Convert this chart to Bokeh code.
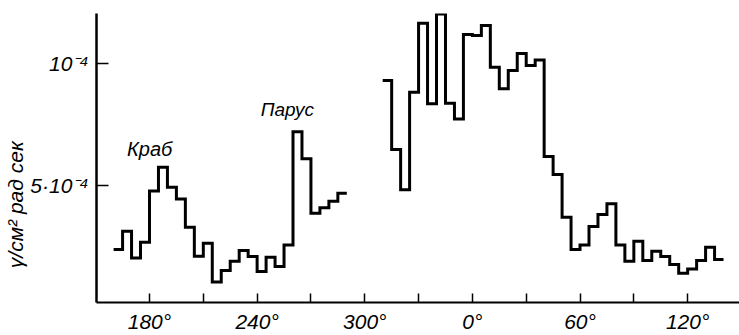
from bokeh.plotting import figure
from bokeh.models import Range1d, FixedTicker
from bokeh.embed import file_html
from bokeh.resources import INLINE

# ---- data (galactic longitude in degrees, unwrapped past 360; flux in units of 1e-5) ----
edges_a = [160, 165, 170, 175, 180, 185, 190, 195, 200, 205, 210, 215, 220, 225,
           230, 235, 240, 245, 250, 255, 260, 265, 270, 275, 280, 285, 290]
flux_a = [2.38, 3.13, 2.04, 2.68, 4.77, 5.75, 4.93, 4.45, 3.29, 2.11, 2.64, 1.05, 1.52,
          1.90, 2.34, 2.10, 1.48, 2.07, 1.69, 2.57, 7.20, 6.09, 3.87, 4.09, 4.36, 4.68]

edges_b = [310, 315, 320, 325, 330, 335, 340, 345, 350, 355, 360, 365, 370, 375, 380,
           385, 390, 395, 400, 405, 410, 415, 420, 425, 430, 435, 440, 445, 450, 455,
           460, 465, 470, 475, 480, 485, 490, 495, 500]
flux_b = [9.29, 6.47, 4.83, 8.81, 11.63, 8.34, 12.01, 8.36, 7.72, 11.17, 11.13, 11.54,
          9.83, 8.95, 9.70, 10.40, 9.90, 10.13, 6.18, 5.45, 3.70, 2.38, 2.57, 3.32, 3.81,
          4.25, 2.57, 1.90, 2.72, 1.93, 2.31, 2.10, 1.77, 1.41, 1.59, 1.93, 2.48, 1.97]

x_ticks = [180, 210, 240, 270, 300, 330, 360, 390, 420, 450, 480]
x_tick_labels = {180: "180°", 210: "", 240: "240°", 270: "", 300: "300°", 330: "",
                 360: "0°", 390: "", 420: "60°", 450: "", 480: "120°"}
y_ticks = [5, 10]
y_tick_labels = {5: "5·10⁻⁴", 10: "10⁻⁴"}
y_title = "γ/см² рад сек"
label_crab = ("Краб", 167.5, 6.50)
label_vela = ("Парус", 242.0, 8.12)

FONT = "Liberation Sans"

p = figure(width=739, height=335, output_backend="svg", toolbar_location=None,
           x_range=Range1d(150.46, 508.9), y_range=Range1d(0.217, 12.03),
           min_border_left=96, min_border_right=0, min_border_top=13, min_border_bottom=33)
p.outline_line_color = None
p.xgrid.visible = False
p.ygrid.visible = False
p.background_fill_color = "white"
p.border_fill_color = "white"

# step curves
p.step(edges_a, flux_a + [flux_a[-1]], mode="after", line_width=3, line_color="black",
       line_join="miter")
p.step(edges_b, flux_b + [flux_b[-1]], mode="after", line_width=3, line_color="black",
       line_join="miter")

# x axis
xa = p.xaxis[0]
xa.ticker = FixedTicker(ticks=x_ticks)
xa.major_label_overrides = x_tick_labels
xa.major_tick_in = 9
xa.major_tick_out = 0
xa.minor_tick_line_color = None
xa.axis_line_width = 2
xa.major_tick_line_width = 1.5
xa.major_label_standoff = 7
xa.major_label_text_font = FONT
xa.major_label_text_font_style = "italic"
xa.major_label_text_font_size = "21px"
xa.major_label_text_color = "black"

# y axis
ya = p.yaxis[0]
ya.ticker = FixedTicker(ticks=y_ticks)
ya.major_label_overrides = y_tick_labels
ya.major_tick_in = 12
ya.major_tick_out = 0
ya.minor_tick_line_color = None
ya.axis_line_width = 2.5
ya.major_tick_line_width = 1.5
ya.major_label_standoff = 8
ya.major_label_text_font = FONT
ya.major_label_text_font_style = "italic"
ya.major_label_text_font_size = "21px"
ya.major_label_text_color = "black"
# trailing no-break spaces shift the centred title down along the axis
ya.axis_label = y_title + "\u00a0" * 16
ya.axis_label_standoff = 0
ya.axis_label_text_font = FONT
ya.axis_label_text_font_style = "italic"
ya.axis_label_text_font_size = "21px"
ya.axis_label_text_color = "black"

# source annotations
p.text(x=[label_crab[1]], y=[label_crab[2]], text=[label_crab[0]],
       text_align="left", text_baseline="alphabetic", text_font={"value": FONT},
       text_font_style="italic", text_font_size="20px", text_color="black")
p.text(x=[label_vela[1]], y=[label_vela[2]], text=[label_vela[0]],
       text_align="left", text_baseline="alphabetic", text_font={"value": FONT},
       text_font_style="italic", text_font_size="19px", text_color="black")

open("out.html", "w").write(file_html(p, INLINE))
